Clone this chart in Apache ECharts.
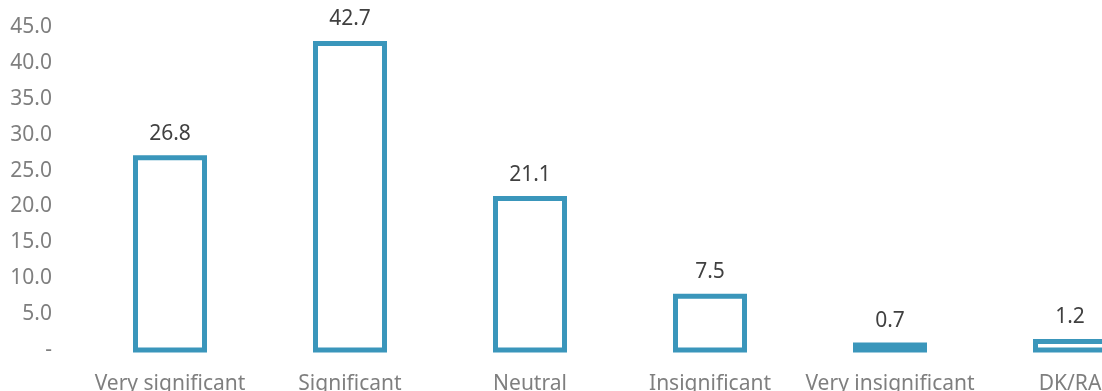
<!DOCTYPE html>
<html>
<head>
<meta charset="utf-8">
<script src="https://cdn.jsdelivr.net/npm/echarts@6/dist/echarts.min.js"></script>
<style>
  html, body { margin: 0; padding: 0; background: #fff; }
  #chart { width: 1102px; height: 391px; }
</style>
</head>
<body>
<div id="chart"></div>
<script>
// categories and shares (%)
var categories = ['Very significant', 'Significant', 'Neutral', 'Insignificant', 'Very insignificant', 'DK/RA'];
var shares = [26.8, 42.7, 21.1, 7.5, 0.7, 1.2];

var chart = echarts.init(document.getElementById('chart'));
var font = '"Noto Sans", sans-serif';
var barColor = '#3a96bb';

// outline bar: stroke centred on the rect edge, like the original
function renderBar(params, api) {
  var top = api.coord([api.value(0), api.value(1)]);
  var base = api.coord([api.value(0), 0]);
  var w = 69;
  return {
    type: 'rect',
    shape: { x: top[0] - w / 2, y: top[1], width: w, height: base[1] - top[1] },
    style: { fill: '#ffffff', stroke: barColor, lineWidth: 5 },
    textContent: {
      style: {
        text: api.value(1).toFixed(1),
        fill: '#404040',
        fontSize: 21,
        fontFamily: font
      }
    },
    textConfig: { position: 'top', distance: 11 }
  };
}

var option = {
  animation: false,
  grid: {
    left: 80,
    right: -58,
    top: 27,
    bottom: 41,
    outerBoundsMode: 'none'
  },
  xAxis: {
    type: 'category',
    data: categories,
    axisLine: { show: false },
    axisTick: { show: false },
    axisLabel: {
      interval: 0,
      margin: 24,
      color: '#7f7f7f',
      fontSize: 21,
      fontFamily: font
    }
  },
  yAxis: {
    type: 'value',
    min: 0,
    max: 45,
    interval: 5,
    splitLine: { show: false },
    axisLine: { show: false },
    axisTick: { show: false },
    axisLabel: {
      margin: 28,
      color: '#7f7f7f',
      fontSize: 21,
      fontFamily: font,
      formatter: function (v) {
        return v === 0 ? '-' : v.toFixed(1);
      }
    }
  },
  series: [{
    type: 'custom',
    renderItem: renderBar,
    encode: { x: 0, y: 1 },
    data: shares.map(function (v, i) { return [i, v]; })
  }]
};

chart.setOption(option);
</script>
</body>
</html>
